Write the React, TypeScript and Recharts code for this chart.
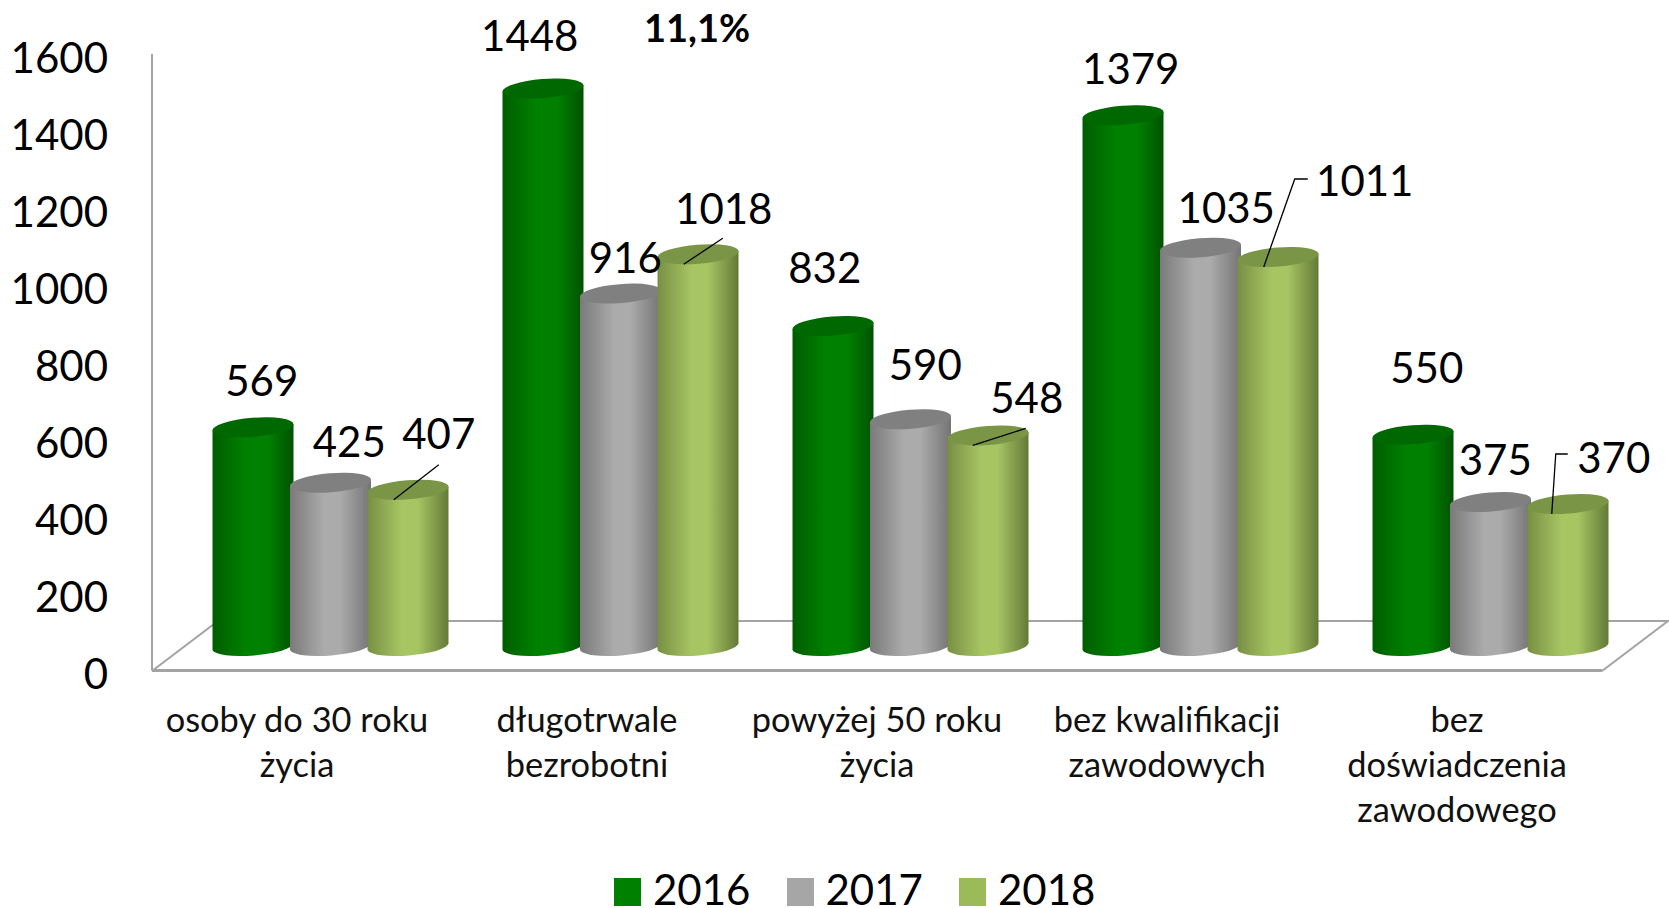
import { BarChart, Bar, XAxis, YAxis, Legend, LabelList } from 'recharts'

const categories = [
  'osoby do 30 roku\nżycia',
  'długotrwale\nbezrobotni',
  'powyżej 50 roku\nżycia',
  'bez kwalifikacji\nzawodowych',
  'bez\ndoświadczenia\nzawodowego',
]
const values2016 = [569, 1448, 832, 1379, 550]
const values2017 = [425, 916, 590, 1035, 375]
const values2018 = [407, 1018, 548, 1011, 370]
const yTicks = [0, 200, 400, 600, 800, 1000, 1200, 1400, 1600]

const data = categories.map((name, i) => ({
  name,
  y2016: values2016[i],
  y2017: values2017[i],
  y2018: values2018[i],
}))

const FONT = 'Lato, sans-serif'
const WALL = '#a3a3a3'

// fake 3d: cylinders sit up and to the right of the axis plane
const DEPTH_X = 31.5
const DEPTH_Y = -24

// hand placed labels, offsets from the top centre of each bar
const nudge2016 = [[42, -71], [20, -78], [25, -83], [41, -71], [47, -92]]
const nudge2017 = [[52, -66], [38, -61], [48, -79], [59, -65], [38, -67]]
const nudge2018 = [[64, -81], [59, -70], [72, -62], [120, -101], [79, -71]]
const leaders2018 = [
  [[19, -14], [64, -49]],
  [[19, -14], [58, -40]],
  [[18, -14], [71, -31]],
  [[19, -14], [50, -102], [63, -102]],
  [[17, -14], [21, -74], [33, -74]],
]

const legendColors: Record<string, string> = {
  y2016: '#008000',
  y2017: '#a6a6a6',
  y2018: '#9bbb59',
}

function cylinder(topColor: string) {
  return (props: any) => {
    const { x, y, width, height, fill } = props
    const left = x + DEPTH_X
    const w = width + 3.5
    const right = left + w
    const top = y + DEPTH_Y
    const bottom = top + height
    const rx = w / 2 + 0.2
    const ry = 9.5
    return (
      <g>
        <path
          d={`M${left} ${top + 3.3} L${left} ${bottom + 3.3} A${rx} ${ry} -4.5 0 0 ${right} ${bottom - 3.3} L${right} ${top - 3.3} Z`}
          fill={fill}
        />
        <ellipse
          cx={left + w / 2}
          cy={top}
          rx={rx}
          ry={ry}
          fill={topColor}
          transform={`rotate(-4.5 ${left + w / 2} ${top})`}
        />
      </g>
    )
  }
}

function valueLabel(nudges: number[][], leaders?: number[][][]) {
  return (props: any) => {
    const box = props.viewBox ?? props
    const cx = box.x + box.width / 2
    const { index, value } = props
    const [dx, dy] = nudges[index]
    const pts = leaders ? leaders[index] : null
    return (
      <g>
        {pts && (
          <polyline
            points={pts.map(([a, b]) => `${cx + a},${box.y + b}`).join(' ')}
            fill="none"
            stroke="#000"
            strokeWidth={1.3}
          />
        )}
        <text
          x={cx + dx}
          y={box.y + dy}
          textAnchor="middle"
          dominantBaseline="central"
          fontFamily={FONT}
          fontSize={42}
          fill="#000"
        >
          {value}
        </text>
      </g>
    )
  }
}

function CategoryTick(props: any) {
  const { x, payload } = props
  const lines = String(payload.value).split('\n')
  return (
    <text textAnchor="middle" fontFamily={FONT} fontSize={34.4} fill="#111">
      {lines.map((line, i) => (
        <tspan key={i} x={x} y={732 + i * 45}>
          {line}
        </tspan>
      ))}
    </text>
  )
}

function ValueTick(props: any) {
  const { x, y, payload } = props
  return (
    <text x={x} y={y + 2.5} textAnchor="end" dominantBaseline="central" fontFamily={FONT} fontSize={42} fill="#000">
      {payload.value}
    </text>
  )
}

function YearLegend(props: any) {
  return (
    <div style={{ display: 'flex', height: 40, fontFamily: FONT, fontSize: 42, color: '#000' }}>
      {props.payload.map((item: any) => (
        <div key={item.dataKey} style={{ display: 'flex', alignItems: 'flex-start', width: 172.5 }}>
          <span
            style={{
              display: 'block',
              width: 27,
              height: 28,
              marginTop: 10,
              marginRight: 12,
              background: legendColors[item.dataKey],
            }}
          />
          <span style={{ display: 'block', lineHeight: '32px', height: 32, marginTop: 4.5 }}>{item.value}</span>
        </div>
      ))}
    </div>
  )
}

export default function App() {
  return (
    <div style={{ position: 'absolute', left: 0, top: 0, width: 1669, height: 908, overflow: 'hidden', background: '#fff' }}>
      <BarChart
        width={1669}
        height={908}
        data={data}
        margin={{ top: 54, right: 67, left: 0, bottom: 27.4 }}
        barSize={77.5}
        barGap={0}
      >
        <defs>
          <linearGradient id="green3d" x1="0" y1="0" x2="1" y2="0">
            <stop offset="0%" stopColor="#005c00" />
            <stop offset="40%" stopColor="#008000" />
            <stop offset="68%" stopColor="#008000" />
            <stop offset="100%" stopColor="#005200" />
          </linearGradient>
          <linearGradient id="gray3d" x1="0" y1="0" x2="1" y2="0">
            <stop offset="0%" stopColor="#7a7a7a" />
            <stop offset="42%" stopColor="#ababab" />
            <stop offset="62%" stopColor="#ababab" />
            <stop offset="100%" stopColor="#747474" />
          </linearGradient>
          <linearGradient id="olive3d" x1="0" y1="0" x2="1" y2="0">
            <stop offset="0%" stopColor="#788f44" />
            <stop offset="42%" stopColor="#a7c563" />
            <stop offset="62%" stopColor="#a7c563" />
            <stop offset="100%" stopColor="#637a37" />
          </linearGradient>
        </defs>
        {/* floor of the 3d box */}
        <path d="M152 671 L218 621 L1668 621 L1602 671" fill="none" stroke={WALL} strokeWidth={2} />
        <XAxis
          dataKey="name"
          height={170}
          interval={0}
          axisLine={{ stroke: WALL, strokeWidth: 3 }}
          tickLine={false}
          tick={<CategoryTick />}
        />
        <YAxis
          width={152}
          domain={[0, 1600]}
          ticks={yTicks}
          interval={0}
          axisLine={{ stroke: WALL, strokeWidth: 2 }}
          tickLine={false}
          tickSize={0}
          tickMargin={44}
          tick={<ValueTick />}
        />
        <Legend
          verticalAlign="bottom"
          content={<YearLegend />}
          wrapperStyle={{ left: 614, bottom: 0, width: 540 }}
        />
        <Bar dataKey="y2016" name="2016" fill="url(#green3d)" shape={cylinder('#006800')} isAnimationActive={false}>
          <LabelList dataKey="y2016" content={valueLabel(nudge2016)} />
        </Bar>
        <Bar dataKey="y2017" name="2017" fill="url(#gray3d)" shape={cylinder('#808080')} isAnimationActive={false}>
          <LabelList dataKey="y2017" content={valueLabel(nudge2017)} />
        </Bar>
        <Bar dataKey="y2018" name="2018" fill="url(#olive3d)" shape={cylinder('#7b9546')} isAnimationActive={false}>
          <LabelList dataKey="y2018" content={valueLabel(nudge2018, leaders2018)} />
        </Bar>
        <text x={697} y={27} textAnchor="middle" dominantBaseline="central" fontFamily={FONT} fontWeight={700} fontSize={38} fill="#000">
          11,1%
        </text>
      </BarChart>
    </div>
  )
}
